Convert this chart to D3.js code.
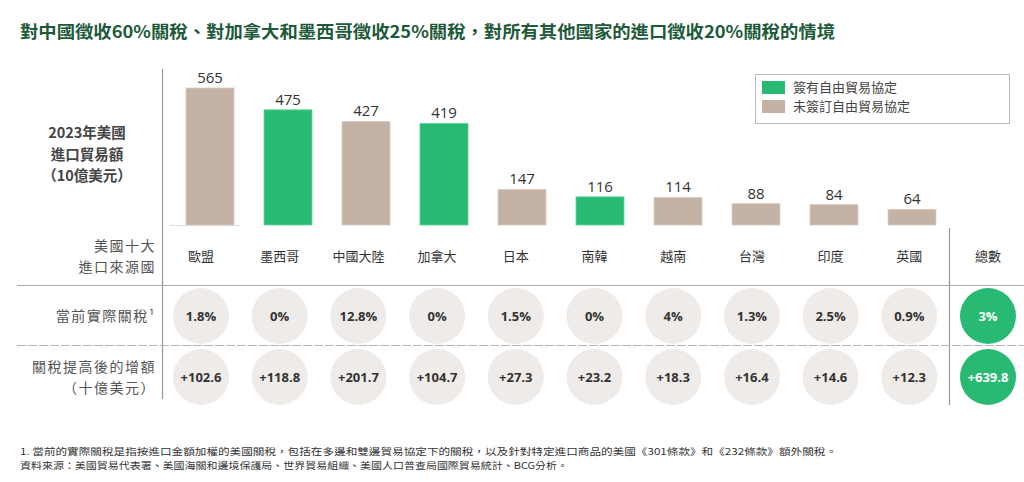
<!DOCTYPE html>
<html><head><meta charset="utf-8">
<script src="https://cdn.jsdelivr.net/npm/d3@7"></script>
<style>
html,body{margin:0;padding:0;background:#fff;}
svg{display:block;font-family:"Noto Sans CJK TC","Noto Sans",sans-serif;}
</style></head>
<body><svg id="c" width="1024" height="482"></svg>
<script>
const categories = ['歐盟','墨西哥','中國大陸','加拿大','日本','南韓','越南','台灣','印度','英國'];
const imports = [565,475,427,419,147,116,114,88,84,64];
const hasFTA = [false,true,false,true,false,true,false,false,false,false];
const currentTariff = ['1.8%','0%','12.8%','0%','1.5%','0%','4%','1.3%','2.5%','0.9%'];
const increase = ['+102.6','+118.8','+201.7','+104.7','+27.3','+23.2','+18.3','+16.4','+14.6','+12.3'];
const totalLabel = '總數';
const totalTariff = '3%';
const totalIncrease = '+639.8';
const legendLabels = ['簽有自由貿易協定','未簽訂自由貿易協定'];
const title = '對中國徵收60%關稅、對加拿大和墨西哥徵收25%關稅，對所有其他國家的進口徵收20%關稅的情境';
const notes = ['1. 當前的實際關稅是指按進口金額加權的美國關稅，包括在多邊和雙邊貿易協定下的關稅，以及針對特定進口商品的美國《301條款》和《232條款》額外關稅。',
               '資料來源：美國貿易代表署、美國海關和邊境保護局、世界貿易組織、美國人口普查局國際貿易統計、BCG分析。'];

const GREEN = '#28ba72', BEIGE = '#c4b3a5', CIRCLE = '#efebe8', TXT = '#333';
const svg = d3.select('#c');

// title
svg.append('text').attr('x',20).attr('y',38).attr('fill','#1d5a3a')
  .attr('font-size',17).attr('font-weight','bold')
  .attr('textLength',815).attr('lengthAdjust','spacingAndGlyphs').text(title);

// scales
const x = d3.scalePoint().domain(categories).range([210,912]);
const baseY = 225;
const h = d3.scaleLinear().domain([0,565]).range([0,137]);
const cols = categories.concat([totalLabel]);
const xt = d3.scalePoint().domain(cols).range([201,988]);
const bw = 48;

// lines
svg.append('line').attr('x1',162.5).attr('x2',162.5).attr('y1',69).attr('y2',399).attr('stroke','#999').attr('stroke-width',1.2);
svg.append('line').attr('x1',949.5).attr('x2',949.5).attr('y1',228).attr('y2',405).attr('stroke','#999').attr('stroke-width',1.2);
svg.append('line').attr('x1',17).attr('x2',1024).attr('y1',285.5).attr('y2',285.5).attr('stroke','#aaa').attr('stroke-width',1.2);
svg.append('line').attr('x1',17).attr('x2',1024).attr('y1',345.5).attr('y2',345.5).attr('stroke','#b5b5b5').attr('stroke-width',1.2).attr('stroke-dasharray','9,2');
svg.append('line').attr('x1',170).attr('x2',239).attr('y1',225.5).attr('y2',225.5).attr('stroke','#ddd').attr('stroke-width',1);

// bars
const g = svg.append('g');
g.selectAll('rect.bar').data(categories).join('rect')
  .attr('x',d=>x(d)-bw/2).attr('width',bw)
  .attr('y',(d,i)=>baseY-h(imports[i])).attr('height',(d,i)=>h(imports[i]))
  .attr('fill',(d,i)=>hasFTA[i]?GREEN:BEIGE)
  .attr('stroke',(d,i)=>hasFTA[i]?'#5fd59a':'#d6cbc2').attr('stroke-width',0.8);
g.selectAll('text.val').data(categories).join('text')
  .attr('x',d=>x(d)).attr('y',(d,i)=>baseY-h(imports[i])-5)
  .attr('text-anchor','middle').attr('font-size',15).attr('fill',TXT)
  .attr('font-family','"Open Sans","Noto Sans",sans-serif')
  .text((d,i)=>imports[i]);

// header labels
svg.selectAll('text.cat').data(cols).join('text')
  .attr('x',d=>xt(d)).attr('y',261).attr('text-anchor','middle')
  .attr('font-size',13).attr('fill',TXT).text(d=>d);

// left labels
const leftBlock = [['2023年美國',138],['進口貿易額',159.5],['（10億美元）',181]];
svg.selectAll('text.lb').data(leftBlock).join('text')
  .attr('x',87).attr('y',d=>d[1]).attr('text-anchor','middle')
  .attr('font-size',14.5).attr('font-weight','bold').attr('fill','#444').text(d=>d[0]);
const rowLabels = [['美國十大',251],['進口來源國',271.5],['當前實際關稅¹',321],['關稅提高後的增額',372],['（十億美元）',392.5]];
svg.selectAll('text.rl').data(rowLabels).join('text')
  .attr('x',156).attr('y',d=>d[1]).attr('text-anchor','end')
  .attr('font-size',14).attr('fill','#555').attr('letter-spacing',1.5).text(d=>d[0]);

// circles
const rows = [{y:316, vals:currentTariff.concat([totalTariff])},{y:377, vals:increase.concat([totalIncrease])}];
rows.forEach(r=>{
  const rg = svg.append('g');
  rg.selectAll('circle').data(cols).join('circle')
    .attr('cx',d=>xt(d)).attr('cy',r.y).attr('r',28)
    .attr('fill',(d,i)=>i===cols.length-1?GREEN:CIRCLE);
  rg.selectAll('text').data(cols).join('text')
    .attr('x',d=>xt(d)).attr('y',r.y+5).attr('text-anchor','middle')
    .attr('font-size',13).attr('font-weight','bold')
    .attr('font-family','"Open Sans","Noto Sans",sans-serif')
    .attr('fill',(d,i)=>i===cols.length-1?'#fff':TXT)
    .text((d,i)=>r.vals[i]);
});

// legend
const lg = svg.append('g');
lg.append('rect').attr('x',755.5).attr('y',74.5).attr('width',254).attr('height',49).attr('fill','#fff').attr('stroke','#bbb');
lg.selectAll('rect.sw').data(legendLabels).join('rect')
  .attr('x',762).attr('y',(d,i)=>81+i*19).attr('width',23).attr('height',13)
  .attr('fill',(d,i)=>i===0?GREEN:BEIGE);
lg.selectAll('text').data(legendLabels).join('text')
  .attr('x',793).attr('y',(d,i)=>92+i*19).attr('font-size',13).attr('fill','#444').text(d=>d);

// notes
svg.append('text').attr('x',20).attr('y',454.5).attr('font-size',9.5).attr('fill','#333')
  .attr('textLength',817).attr('lengthAdjust','spacingAndGlyphs').text(notes[0]);
svg.append('text').attr('x',20).attr('y',468.5).attr('font-size',9.5).attr('fill','#333')
  .attr('textLength',548).attr('lengthAdjust','spacingAndGlyphs').text(notes[1]);
</script></body></html>
